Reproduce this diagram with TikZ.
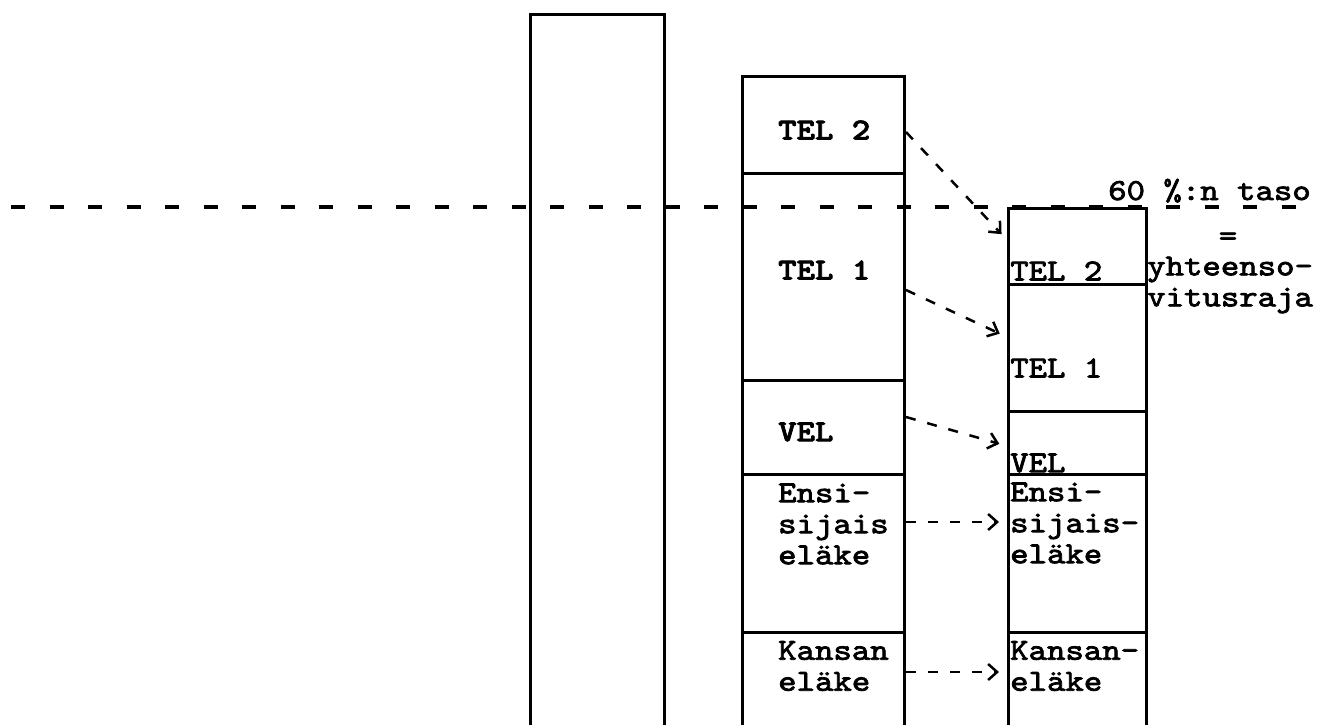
\documentclass[tikz,border=0pt]{standalone}
\usepackage{fontspec}
\setmonofont{lmmono10-regular.otf}[BoldFont=lmmonolt10-bold.otf,
  FakeStretch=1.15,FakeBold=2.5]
\usetikzlibrary{arrows.meta}

\begin{document}
\begin{tikzpicture}[x=1pt,y=-1pt,font=\ttfamily\fontsize{30.5}{31}\selectfont,
  bar/.style={draw,line width=3pt,inner sep=0pt,anchor=north west},
  lab/.style={inner sep=0pt,anchor=west,align=left},
  arr/.style={-{Straight Barb[length=9pt,width=16pt]},line width=2.5pt,
    dash pattern=on 10pt off 12pt,shorten >=8pt},
  level/.style={line width=3.2pt,dash pattern=on 14pt off 24.5pt}]
  \useasboundingbox (0,0) rectangle (1322,725);
  \clip (0,0) rectangle (1322,725);
  % bars
  \node[bar,minimum width=134pt,minimum height=750pt] (total) at (529,13) {};
  \node[bar,minimum width=162pt,minimum height=97pt] (lTEL2) at (741,75) {};
  \node[bar,minimum width=162pt,minimum height=207pt] (lTEL1) at (741,172) {};
  \node[bar,minimum width=162pt,minimum height=94pt] (lVEL) at (741,379) {};
  \node[bar,minimum width=162pt,minimum height=158pt] (lEnsi) at (741,473) {};
  \node[bar,minimum width=162pt,minimum height=120pt] (lKansa) at (741,631) {};
  \node[bar,minimum width=138pt,minimum height=76pt] (rTEL2) at (1007,207) {};
  \node[bar,minimum width=138pt,minimum height=127pt] (rTEL1) at (1007,283) {};
  \node[bar,minimum width=138pt,minimum height=63pt] (rVEL) at (1007,410) {};
  \node[bar,minimum width=138pt,minimum height=158pt] (rEnsi) at (1007,473) {};
  \node[bar,minimum width=138pt,minimum height=120pt] (rKansa) at (1007,631) {};
  \draw[level] (11,207) -- (1300,207);
  % labels
  \node[lab] (tTEL2) at (778,130) {\bfseries TEL 2};
  \node[lab] (tTEL1) at (778,270) {\bfseries TEL 1};
  \node[lab] (tVEL) at (778,432) {\bfseries VEL};
  \node[lab] (tEnsi) at (778,524) {Ensi-\\sijais\\eläke};
  \node[lab] (tKansa) at (778,666) {Kansan\\eläke};
  \node[lab] (uTEL2) at (1010,271) {TEL 2};
  \node[lab] (uTEL1) at (1010,368) {TEL 1};
  \node[lab] (uVEL) at (1010,463) {VEL};
  \node[lab] (uEnsi) at (1010,523) {Ensi-\\sijais-\\eläke};
  \node[lab] (uKansa) at (1010,666) {Kansan-\\eläke};
  \node[lab,anchor=base west] (taso) at (1108,200) {60 \%:n taso};
  \node[inner sep=0pt] (eq) at (1228,239) {=};
  \node[lab] (raja) at (1147,285) {yhteenso-\\vitusraja};
  % arrows
  \draw[arr] (lTEL2.east |- 0,132) -- (rTEL2.west |- 0,240);
  \draw[arr] (lTEL1.east |- 0,290) -- (rTEL1.west |- 0,337);
  \draw[arr] (lVEL.east |- 0,417) -- (rVEL.west |- 0,446);
  \draw[arr] (lEnsi.east |- 0,522) -- (rEnsi.west |- 0,522);
  \draw[arr] (lKansa.east |- 0,672) -- (rKansa.west |- 0,672);
\end{tikzpicture}
\end{document}
